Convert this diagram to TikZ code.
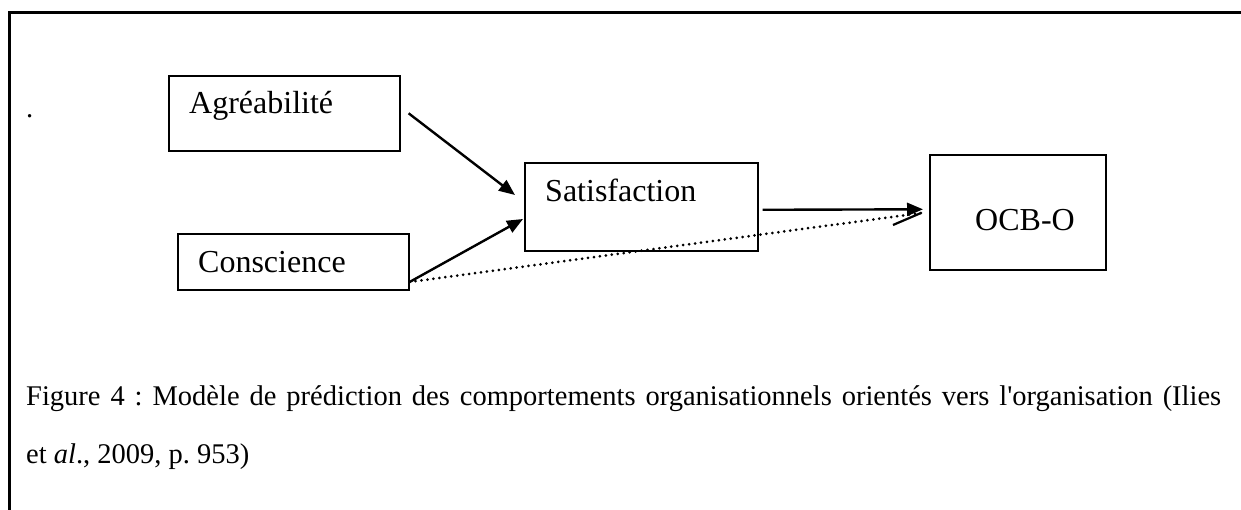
\documentclass[tikz,border=0pt]{standalone}
\usepackage{fontspec}
\setmainfont{Liberation Serif}
\usetikzlibrary{arrows.meta,calc}
\frenchspacing
\tikzset{
  box/.style={draw, line width=1.6pt, rectangle, inner sep=0pt, anchor=north west},
  boxtext/.style={anchor=base west, inner sep=0pt, font=\fontsize{32}{38}\selectfont},
  captext/.style={anchor=base west, inner sep=0pt, font=\fontsize{28.5}{34}\selectfont},
  conn/.style={line width=2.4pt, -{Triangle[length=16pt,width=13pt]}},
  dotconn/.style={line width=3pt, dash pattern=on 0pt off 6pt, line cap=round},
  frameline/.style={line width=3pt}
}
\begin{document}
\begin{tikzpicture}[x=1pt,y=-1pt]
\useasboundingbox (0,0) rectangle (1241,510);
% frame (top and left)
\coordinate (ftr) at (1241,13);
\coordinate (ftl) at (9,13);
\coordinate (fbl) at (9,510);
\draw[frameline] (ftr) -- (ftl) -- (fbl);
% boxes
\node[box, minimum width=231pt, minimum height=75pt] (agr) at (168,75) {};
\node[box, minimum width=233pt, minimum height=88pt] (sat) at (524,162) {};
\node[box, minimum width=231pt, minimum height=56pt] (con) at (177,233) {};
\node[box, minimum width=176pt, minimum height=115pt] (ocb) at (929,154) {};
% texts
\node[boxtext] (tagr) at (189,114) {Agréabilité};
\node[boxtext] (tsat) at (545,202) {Satisfaction};
\node[boxtext] (tcon) at (198,273) {Conscience};
\node[boxtext] (tocb) at (975,231) {OCB-O};
\node[captext] (dot) at (26,118) {.};
\node[captext] (cap1) at (26,405) {\makebox[1195pt][s]{Figure 4 : Modèle de prédiction des comportements organisationnels orientés vers l\textquotesingle organisation (Ilies}};
\node[captext] (cap2) at (26,463) {et \textit{al}., 2009, p. 953)};
% connector anchors
\coordinate (a1) at ($(agr.east)+(8,0)$);
\coordinate (a2) at (515,195);
\coordinate (c1) at (con.east |- 0,282);
\coordinate (c2) at (523,219);
\coordinate (s1) at ($(sat.east)+(4,3)$);
\coordinate (s2) at ($(ocb.west)+(-6,-3)$);
\coordinate (d2) at (921,213);
\coordinate (db) at (893,225);
% connectors
\draw[conn] (a1) -- (a2);
\draw[conn] (c1) -- (c2);
\draw[conn] (s1) -- (s2);
\draw[dotconn] (c1) -- (d2);
\draw[line width=2.2pt] (db) -- (d2);
\end{tikzpicture}
\end{document}
